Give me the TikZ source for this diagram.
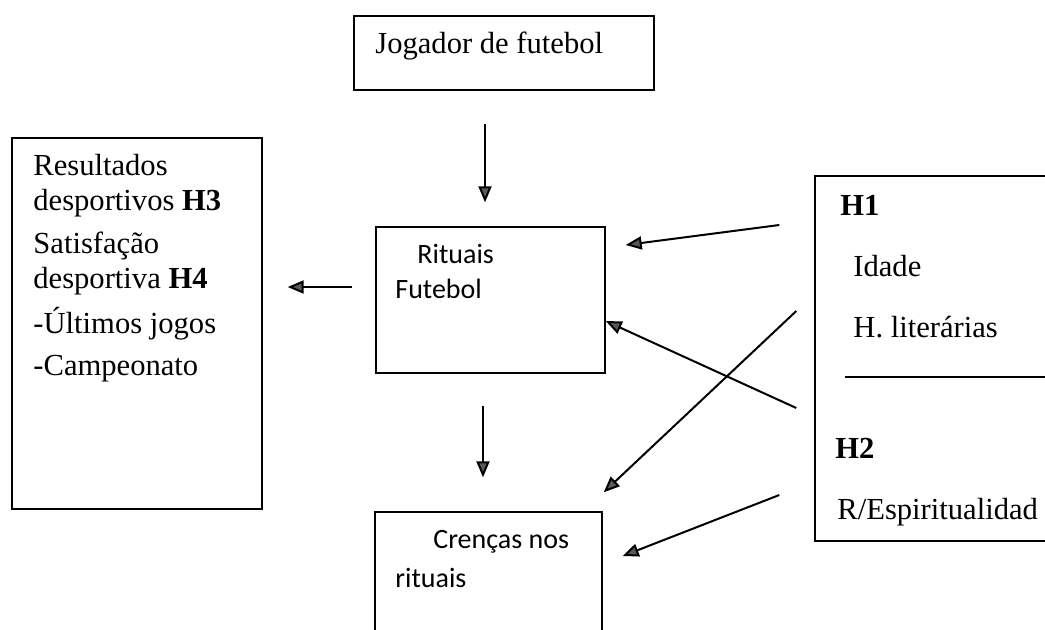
\documentclass[tikz,border=0pt]{standalone}
\usepackage{fontspec}
\setmainfont{Liberation Serif}
\newfontfamily\calibri{Carlito}
\usetikzlibrary{arrows.meta,calc}
\tikzset{
    plain-box/.style = {draw=black, line width=0.7pt, rectangle, inner sep=0pt},
    serif-text/.style = {inner sep=0pt, anchor=base west, align=left, font=\fontsize{15.3}{17.5}\selectfont},
    sans-text/.style = {inner sep=0pt, anchor=base west, align=left, font=\calibri\fontsize{14}{17.5}\selectfont},
    link-arrow/.style = {line width=1pt, -{Triangle[length=8pt,width=6.5pt,fill=black!65]}},
}

\begin{document}
\begin{tikzpicture}[x=0.5pt, y=-0.5pt]
\path[use as bounding box, clip] (0,0) rectangle (1045,629);
% boxes
\node[plain-box, minimum width=150pt, minimum height=37pt] (jogador) at (504,53) {};
\node[plain-box, minimum width=125pt, minimum height=185.5pt] (resultados) at (137,323.5) {};
\node[plain-box, minimum width=114.5pt, minimum height=73pt] (rituais) at (490.5,300) {};
\node[plain-box, minimum width=113.5pt, minimum height=84pt] (crencas) at (488.5,596) {};
\node[plain-box, minimum width=142.5pt, minimum height=182.5pt] (hyp) at (957.5,358.5) {};
% texts (base = last line)
\node[serif-text] (jogador-txt) at (375,53) {Jogador de futebol};
\node[serif-text] (resultados-txt) at (33,375) {Resultados\\desportivos \textbf{H3}\\[4pt]
    Satisfação\\desportiva \textbf{H4}\\[5pt]-Últimos jogos\\[3.5pt]-Campeonato};
\node[sans-text] (rituais-txt) at (395,298) {\hspace{11pt}Rituais\\Futebol};
\node[sans-text, font=\calibri\fontsize{14}{19.5}\selectfont] (crencas-txt) at (395,587) {\hspace{19pt}Crenças nos\\rituais};
\node[serif-text, font=\fontsize{15.3}{30.5}\selectfont] (h1-txt) at (840,337) {\textbf{H1}\\\hspace{6.5pt}Idade\\\hspace{6.5pt}H. literárias};
\node[serif-text, font=\fontsize{15.3}{30.5}\selectfont] (h2-txt) at (835,519) {\textbf{H2}\\\hspace{1pt}R/Espiritualidad};
\draw[line width=0.7pt] ($(hyp.west)+(31,18.5)$) -- ($(hyp.east)+(0,18.5)$);
% arrows
\draw[link-arrow] ($(jogador.south)+(-19,33)$) -- ($(rituais.north)+(-5.5,-24)$);
\draw[link-arrow] ($(rituais.west)+(-23,-13)$) -- ($(resultados.east)+(25,-36.5)$);
\draw[link-arrow] ($(rituais.south)+(-7.5,32)$) -- ($(crencas.north)+(-5.5,-34)$);
\draw[link-arrow] ($(hyp.west)+(-35,-133.5)$) -- ($(rituais.east)+(20,-55)$);
\draw[link-arrow] ($(hyp.west)+(-18,49.5)$) -- ($(rituais.east)+(0,21)$);
\draw[link-arrow] ($(hyp.west)+(-18,-47.5)$) -- ($(crencas.north east)+(1,-19)$);
\draw[link-arrow] ($(hyp.west)+(-35,136.5)$) -- ($(crencas.east)+(20,-40)$);
\end{tikzpicture}
\end{document}
